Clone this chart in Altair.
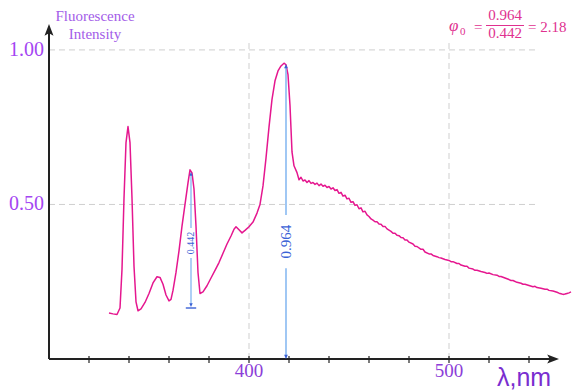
import altair as alt
import pandas as pd

# ---------------- data ----------------
wavelength = [330, 332, 334, 335.5, 336.5, 337.5, 338.5, 339.5, 340.5, 341.5, 342.5, 343.5,
              344.5, 346, 348, 350, 352, 354, 355.5, 357, 358.5, 360, 361, 362, 363.5, 365,
              366.5, 368, 369.5, 370.5, 371.5, 372.5, 373.5, 374.5, 375.5, 377, 379, 381,
              383, 385, 387, 389, 391, 392.5, 393.5, 395, 396.5, 398, 400, 402, 404, 405.5,
              407, 408.5, 410, 411.5, 413, 414.5, 416, 417.5, 418.5, 419.5, 420.5, 421.5,
              422.5, 424, 425, 426, 427, 428, 429, 430, 431, 432, 433, 434, 435, 436, 437,
              438, 439, 440, 441, 442, 443, 444, 445, 446, 447, 448, 449, 450, 451, 452,
              453, 454, 455, 456, 457, 458, 459, 460, 461, 462, 463, 464, 465, 466, 467,
              468, 469, 470, 471, 472, 473, 474, 475, 476, 477, 478, 479, 480, 482, 483,
              484, 486, 487, 488, 490, 491, 492, 494, 495, 496, 498, 500, 501, 502, 504,
              505, 506, 508, 509, 510, 512, 513, 514, 516, 518, 519, 520, 522, 524, 525,
              526, 528, 530, 531, 532, 534, 536, 537, 538, 540, 542, 543, 544, 546, 548,
              549, 550, 552, 554, 555, 556, 557, 558, 559, 560, 561]
intensity = [0.149, 0.146, 0.144, 0.165, 0.29, 0.52, 0.70, 0.752, 0.70, 0.52, 0.30, 0.185,
             0.156, 0.162, 0.183, 0.212, 0.246, 0.266, 0.264, 0.242, 0.207, 0.188, 0.193,
             0.222, 0.28, 0.35, 0.43, 0.50, 0.57, 0.612, 0.602, 0.55, 0.43, 0.28, 0.212,
             0.217, 0.237, 0.262, 0.287, 0.312, 0.342, 0.372, 0.398, 0.42, 0.428, 0.418,
             0.408, 0.416, 0.428, 0.443, 0.472, 0.50, 0.56, 0.65, 0.75, 0.84, 0.90, 0.932,
             0.948, 0.957, 0.952, 0.92, 0.82, 0.67, 0.625, 0.603, 0.58, 0.588, 0.576,
             0.579, 0.571, 0.577, 0.568, 0.571, 0.565, 0.569, 0.561, 0.566, 0.559, 0.562,
             0.555, 0.558, 0.55, 0.554, 0.545, 0.548, 0.536, 0.539, 0.527, 0.53, 0.518,
             0.52, 0.507, 0.509, 0.497, 0.499, 0.486, 0.489, 0.476, 0.478, 0.466, 0.461,
             0.453, 0.449, 0.444, 0.444, 0.437, 0.436, 0.429, 0.429, 0.421, 0.417, 0.413,
             0.407, 0.407, 0.4, 0.399, 0.393, 0.392, 0.385, 0.385, 0.378, 0.372, 0.365,
             0.364, 0.355, 0.355, 0.346, 0.34, 0.34, 0.335, 0.331, 0.328, 0.327, 0.322,
             0.319, 0.315, 0.315, 0.309, 0.309, 0.304, 0.3, 0.3, 0.294, 0.291, 0.287,
             0.287, 0.283, 0.28, 0.277, 0.278, 0.273, 0.271, 0.267, 0.267, 0.262, 0.257,
             0.254, 0.254, 0.248, 0.245, 0.242, 0.242, 0.238, 0.234, 0.235, 0.231, 0.229,
             0.226, 0.226, 0.222, 0.22, 0.216, 0.213, 0.211, 0.209, 0.21, 0.212, 0.214,
             0.217]

x_minor_ticks = [320, 340, 360, 380, 400, 420, 440, 460, 480, 500, 520, 540]
x_tick_labels = [400, 500]
y_tick_labels = [0.50, 1.00]
y_tick_text = ["0.50", "1.00"]

main_peak_x = 418.5
main_peak_value = 0.964
side_peak_x = 371.0
side_peak_value = 0.442
side_peak_top = 0.605
side_peak_base = 0.165
quantum_ratio = 2.18

# ---------------- styling ----------------
CURVE = "#e5178f"
GRID = "#cfcfcf"
AXIS = "#222222"
BLUE_LINE = "#78b0f0"
BLUE_DARK = "#3b62d6"
PURPLE = "#a446f2"
PURPLE_X = "#8c3ed8"
PURPLE_T = "#7a2ed0"
PINK = "#e0308f"
SERIF = "Liberation Serif"

xs = alt.Scale(domain=[300, 562], nice=False, zero=False)
ys = alt.Scale(domain=[0, 1.1], nice=False, zero=False)


def X(field):
    return alt.X(field, type="quantitative", scale=xs, axis=None)


def Y(field):
    return alt.Y(field, type="quantitative", scale=ys, axis=None)


ARROW_UP = "M0,0L0.38,1L0,0.78L-0.38,1Z"
ARROW_RIGHT = "M0,0L-1,-0.38L-0.78,0L-1,0.38Z"
SMALL_UP = "M0,0L0.45,1L-0.45,1Z"
SMALL_DOWN = "M0,0L0.45,-1L-0.45,-1Z"

# gridlines
vgrid = alt.Chart(pd.DataFrame({"x": x_tick_labels, "y0": [0, 0], "y1": [1.03, 1.03]})).mark_rule(
    color=GRID, strokeDash=[6, 4], strokeWidth=1).encode(x=X("x"), y=Y("y0"), y2="y1")
hgrid = alt.Chart(pd.DataFrame({"y": y_tick_labels, "x0": [300, 300], "x1": [543, 543]})).mark_rule(
    color=GRID, strokeDash=[6, 4], strokeWidth=1).encode(y=Y("y"), x=X("x0"), x2="x1")

# spectrum
curve = alt.Chart(pd.DataFrame({"wl": wavelength, "I": intensity})).mark_line(
    color=CURVE, strokeWidth=1.5, strokeJoin="round").encode(x=X("wl"), y=Y("I"))

# axes
x_axis = alt.Chart(pd.DataFrame({"x0": [300], "x1": [552], "y": [0]})).mark_rule(
    color=AXIS, strokeWidth=2).encode(x=X("x0"), x2="x1", y=Y("y"))
y_axis = alt.Chart(pd.DataFrame({"x": [300], "y0": [0], "y1": [1.07]})).mark_rule(
    color=AXIS, strokeWidth=2).encode(x=X("x"), y=Y("y0"), y2="y1")
y_arrow = alt.Chart(pd.DataFrame({"x": [300], "y": [1.084]})).mark_point(
    shape=ARROW_UP, filled=True, color=AXIS, opacity=1, size=560).encode(x=X("x"), y=Y("y"))
x_arrow = alt.Chart(pd.DataFrame({"x": [555], "y": [0]})).mark_point(
    shape=ARROW_RIGHT, filled=True, color=AXIS, opacity=1, size=560).encode(x=X("x"), y=Y("y"))
ticks = alt.Chart(pd.DataFrame({"x": x_minor_ticks})).mark_rule(
    color=AXIS, strokeWidth=1.2).encode(x=X("x"), y=alt.value(337), y2=alt.value(344))

# tick labels
ylabels = alt.Chart(pd.DataFrame({"y": y_tick_labels, "t": y_tick_text})).mark_text(
    font=SERIF, fontSize=20, color=PURPLE, align="right", baseline="middle").encode(
    x=alt.value(-5), y=Y("y"), text="t:N")
xlabels = alt.Chart(pd.DataFrame({"x": x_tick_labels, "t": [str(v) for v in x_tick_labels]})).mark_text(
    font=SERIF, fontSize=19, color=PURPLE_X, align="center", baseline="middle").encode(
    x=X("x"), y=alt.value(352), text="t:N")

x_title = alt.Chart(pd.DataFrame({"t": ["λ,nm"]})).mark_text(
    font="Liberation Sans", fontSize=25, color=PURPLE_T,
    align="left", baseline="alphabetic").encode(x=alt.value(448), y=alt.value(367), text="t:N")
y_title = alt.Chart(pd.DataFrame({"t": ["Fluorescence", "Intensity"], "yy": [2, 20]})).mark_text(
    font=SERIF, fontSize=15, color="#a35ce8", align="center", baseline="alphabetic").encode(
    x=alt.value(46), y=alt.Y("yy:Q", scale=None, axis=None), text="t:N")

# annotation: main peak 0.964
main_seg = alt.Chart(pd.DataFrame({"x": [main_peak_x, main_peak_x], "y0": [0.005, 0.466],
                                   "y1": [0.294, 0.945]})).mark_rule(
    color=BLUE_LINE, strokeWidth=1.4).encode(x=X("x"), y=Y("y0"), y2="y1")
main_arrows = alt.Chart(pd.DataFrame({"x": [main_peak_x], "y": [main_peak_value - 0.01]})).mark_point(
    shape=SMALL_UP, filled=True, color=BLUE_DARK, opacity=1, size=70).encode(x=X("x"), y=Y("y"))
main_arrow_dn = alt.Chart(pd.DataFrame({"x": [main_peak_x], "y": [0.0]})).mark_point(
    shape=SMALL_DOWN, filled=True, color=BLUE_DARK, opacity=1, size=70).encode(x=X("x"), y=Y("y"))
main_label = alt.Chart(pd.DataFrame({"x": [main_peak_x], "y": [0.38], "t": [f"{main_peak_value:.3f}"]})).mark_text(
    font=SERIF, fontSize=15, color=BLUE_DARK, angle=270, align="center", baseline="middle").encode(
    x=X("x"), y=Y("y"), text="t:N")

# annotation: side peak 0.442
side_seg = alt.Chart(pd.DataFrame({"x": [side_peak_x, side_peak_x], "y0": [side_peak_base + 0.01, 0.424],
                                   "y1": [0.327, side_peak_top - 0.01]})).mark_rule(
    color=BLUE_LINE, strokeWidth=1.2).encode(x=X("x"), y=Y("y0"), y2="y1")
side_cap = alt.Chart(pd.DataFrame({"x0": [side_peak_x - 2.6], "x1": [side_peak_x + 2.6],
                                   "y": [side_peak_base]})).mark_rule(
    color=BLUE_DARK, strokeWidth=1.4).encode(x=X("x0"), x2="x1", y=Y("y"))
side_up = alt.Chart(pd.DataFrame({"x": [side_peak_x], "y": [side_peak_top]})).mark_point(
    shape=SMALL_UP, filled=True, color=BLUE_DARK, opacity=1, size=60).encode(x=X("x"), y=Y("y"))
side_dn = alt.Chart(pd.DataFrame({"x": [side_peak_x], "y": [side_peak_base + 0.003]})).mark_point(
    shape=SMALL_DOWN, filled=True, color=BLUE_DARK, opacity=1, size=60).encode(x=X("x"), y=Y("y"))
side_label = alt.Chart(pd.DataFrame({"x": [side_peak_x], "y": [0.375], "t": [f"{side_peak_value:.3f}"]})).mark_text(
    font=SERIF, fontSize=10, color=BLUE_DARK, angle=270, align="center", baseline="middle").encode(
    x=X("x"), y=Y("y"), text="t:N")

# formula phi_0 = 0.964 / 0.442 = 2.18
formula_df = pd.DataFrame({
    "t": ["φ", "0", "=", f"{main_peak_value:.3f}", f"{side_peak_value:.3f}", f"= {quantum_ratio:.2f}"],
    "px": [400, 411, 425, 456, 456, 479],
    "py": [12, 16, 13, 0.5, 18.5, 13],
    "sz": [17, 11, 15, 15, 15, 15],
    "al": ["left", "left", "left", "center", "center", "left"],
    "st": ["italic", "normal", "normal", "normal", "normal", "normal"],
})
formula_parts = []
for _, r in formula_df.iterrows():
    formula_parts.append(
        alt.Chart(pd.DataFrame({"t": [r.t]})).mark_text(
            font=SERIF, fontSize=int(r.sz), fontStyle=r.st, color=PINK, align=r.al,
            baseline="alphabetic").encode(x=alt.value(float(r.px)), y=alt.value(float(r.py)), text="t:N"))
frac_bar = alt.Chart(pd.DataFrame({"a": [0]})).mark_rule(color=PINK, strokeWidth=1).encode(
    x=alt.value(437), x2=alt.value(475), y=alt.value(6.5))

chart = alt.layer(
    vgrid, hgrid, curve, main_seg, side_seg, x_axis, y_axis, ticks, y_arrow, x_arrow,
    main_arrows, main_arrow_dn, side_cap, side_up, side_dn, main_label, side_label,
    ylabels, xlabels, x_title, y_title, frac_bar, *formula_parts
).properties(
    width=524, height=340,
    autosize=alt.AutoSizeParams(type="none"),
    padding={"left": 49, "top": 19, "right": 0, "bottom": 33},
    background="white",
).configure_view(stroke=None)

chart.save("out.html", embed_options={"renderer": "svg", "actions": False})
